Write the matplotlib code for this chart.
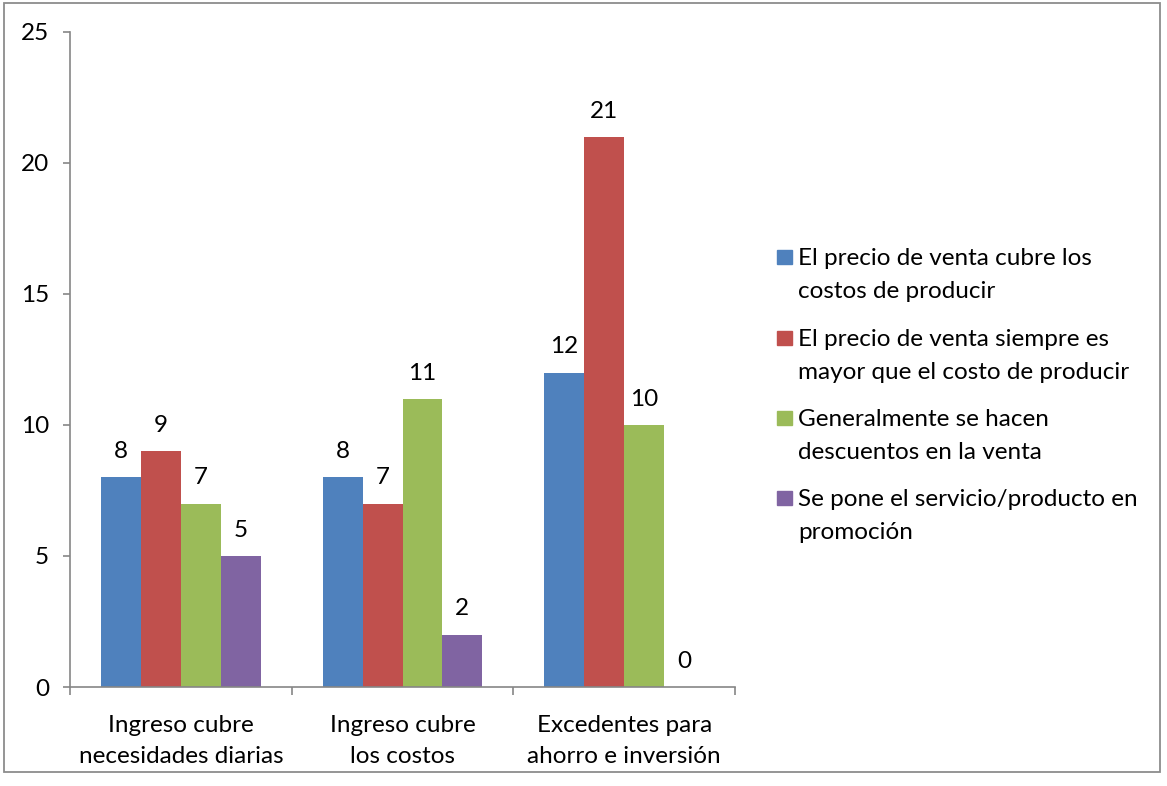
import numpy as np
import matplotlib.pyplot as plt
from matplotlib.patches import Rectangle

categories = ['Ingreso cubre\nnecesidades diarias', 'Ingreso cubre\nlos costos', 'Excedentes para\nahorro e inversión']
series_names = ['El precio de venta cubre los\ncostos de producir',
                'El precio de venta siempre es\nmayor que el costo de producir',
                'Generalmente se hacen\ndescuentos en la venta',
                'Se pone el servicio/producto en\npromoción']
precio_cubre = [8, 8, 12]
precio_mayor = [9, 7, 21]
descuentos = [7, 11, 10]
promocion = [5, 2, 0]
series = [precio_cubre, precio_mayor, descuentos, promocion]
colors = ['#4F81BD', '#C0504D', '#9BBB59', '#8064A2']

plt.rcParams['font.family'] = ['Lato', 'DejaVu Sans']
fs = 17.5
axis_col = '#868686'

fig = plt.figure(figsize=(11.67, 7.86), dpi=100)
ax = fig.add_axes([70/1167, 1-687/786, 665/1167, 655/786])

x = np.arange(len(categories))
w = 0.18
for i, vals in enumerate(series):
    pos = x + (i - 1.5) * w
    ax.bar(pos, vals, width=w, color=colors[i], label=series_names[i])
    for xp, v in zip(pos, vals):
        ax.annotate(str(v), (xp, v), xytext=(0, 11), textcoords='offset points',
                    ha='center', va='bottom', fontsize=fs)

ax.set_xlim(-0.5, 2.5)
ax.set_ylim(0, 25)
ax.set_yticks([0, 5, 10, 15, 20, 25])
ax.tick_params(axis='y', labelsize=fs, length=5, color=axis_col, width=1.2, pad=10)
ax.set_xticks(x)
ax.set_xticklabels(categories, fontsize=fs, linespacing=1.6)
ax.tick_params(axis='x', length=0, pad=20)
ax.set_xticks([-0.5, 0.5, 1.5, 2.5], minor=True)
ax.tick_params(axis='x', which='minor', length=6, color=axis_col, width=1.2)
for s in ['top', 'right']:
    ax.spines[s].set_visible(False)
for s in ['left', 'bottom']:
    ax.spines[s].set_color(axis_col)
    ax.spines[s].set_linewidth(1.2)

# legend drawn by hand so the square sits on the first line
leg_y = [257, 338, 418, 498]
for name, c, yy in zip(series_names, colors, leg_y):
    fig.patches.append(Rectangle((777/1167, 1-(yy+7)/786), 15/1167, 14/786,
                                 transform=fig.transFigure, color=c))
    fig.text(798/1167, 1-(yy+41)/786, name, fontsize=fs, ha='left', va='baseline',
             linespacing=1.68)

fig.patches.append(Rectangle((4/1167, 1-772/786), 1156/1167, 769/786, transform=fig.transFigure,
                             fill=False, edgecolor='#8C8C8C', linewidth=1.3))

fig.savefig('out.png', dpi=100)
